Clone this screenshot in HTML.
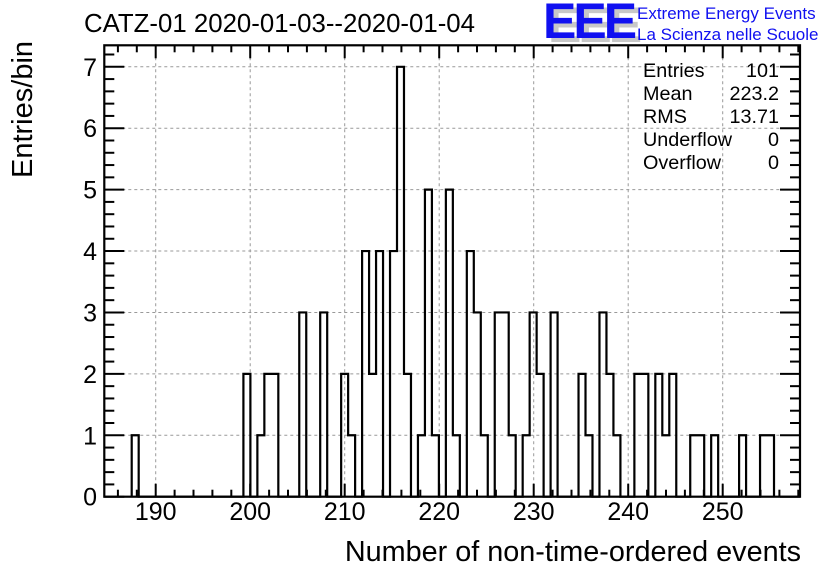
<!DOCTYPE html>
<html><head><meta charset="utf-8"><style>
html,body{margin:0;padding:0;background:#fff;}
svg{display:block;font-family:"Liberation Sans",Arial,sans-serif;}
</style></head><body>
<svg id="chart" width="836" height="572" viewBox="0 0 836 572" xmlns="http://www.w3.org/2000/svg">
<text x="84" y="32" font-size="25.8" fill="#000">CATZ-01 2020-01-03--2020-01-04</text>
<g>
<text x="548" y="42" font-size="50" font-weight="bold" fill="#c8c8c8" letter-spacing="-3">EEE</text>
<text x="543" y="38" font-size="50" font-weight="bold" fill="#1010f0" letter-spacing="-3">EEE</text>
<text x="637" y="19" font-size="17" fill="#1010f0">Extreme Energy Events</text>
<text x="637" y="40" font-size="17" fill="#1010f0">La Scienza nelle Scuole</text>
</g>
<text transform="translate(32,178) rotate(-90)" font-size="29" fill="#000">Entries/bin</text>
<text x="801" y="561" font-size="28.8" text-anchor="end" fill="#000">Number of non-time-ordered events</text>
<g id="grid"></g>
<g id="bars"></g>
<g id="axes"></g>
<g font-size="19.8" fill="#000">
<text x="643" y="77">Entries</text><text x="779" y="77" text-anchor="end">101</text>
<text x="643" y="100">Mean</text><text x="779" y="100" text-anchor="end">223.2</text>
<text x="643" y="123">RMS</text><text x="779" y="123" text-anchor="end">13.71</text>
<text x="643" y="146">Underflow</text><text x="779" y="146" text-anchor="end">0</text>
<text x="643" y="169">Overflow</text><text x="779" y="169" text-anchor="end">0</text>
</g>
</svg>
<script>
const binStart = 187.46;
const binWidth = 0.7388;
const counts = [1,0,0,0,0,0,0,0,0,0,0,0,0,0,0,0,2,0,1,2,2,0,0,0,3,0,0,3,0,0,2,1,0,4,2,4,0,4,7,2,0,1,5,1,0,5,1,0,4,3,1,0,3,3,1,0,1,3,2,0,3,0,0,0,2,1,0,3,2,1,0,0,2,2,0,2,1,2,0,0,1,1,0,1,0,0,0,1,0,0,1,1];
const xTicks = [190,200,210,220,230,240,250];
const yTicks = [0,1,2,3,4,5,6,7];

const X0=104.3, X1=800, Y0=496.7, Y1=45.3;
const xmin=184.56, xmax=258.18, ymin=0, ymax=7.35;
const sx = v => X0 + (v-xmin)/(xmax-xmin)*(X1-X0);
const sy = v => Y0 - (v-ymin)/(ymax-ymin)*(Y0-Y1);
const NS="http://www.w3.org/2000/svg";
function mk(tag, attrs, parent){const e=document.createElementNS(NS,tag);for(const k in attrs)e.setAttribute(k,attrs[k]);parent.appendChild(e);return e;}
const grid=document.getElementById('grid'), bars=document.getElementById('bars'), axes=document.getElementById('axes');

xTicks.forEach(t=>{
  const l=mk('line',{x1:sx(t),x2:sx(t),y1:Y1,y2:Y0,stroke:'#999','stroke-width':1,'stroke-dasharray':'3,3'},grid);
  
  
});
yTicks.forEach(t=>{
  const l=mk('line',{x1:X0,x2:X1,y1:sy(t),y2:sy(t),stroke:'#999','stroke-width':1,'stroke-dasharray':'3,3'},grid);
  
  
});

let d='M'+sx(binStart)+','+sy(0);
counts.forEach((c,i)=>{
  const a=binStart+i*binWidth, b=a+binWidth;
  d+=' L'+sx(a)+','+sy(c)+' L'+sx(b)+','+sy(c);
});
d+=' L'+sx(binStart+counts.length*binWidth)+','+sy(0);
const p=mk('path',{d:d,fill:'none',stroke:'#000','stroke-width':2.2},bars);



const f=mk('rect',{x:X0,y:Y1,width:X1-X0,height:Y0-Y1,fill:'none',stroke:'#000','stroke-width':2.2},axes);



for(let v=186; v<=258; v+=2){
  const major = v%10===0, len = major?13:7;
  mk('line',{x1:sx(v),x2:sx(v),y1:Y0,y2:Y0-len,stroke:'#000','stroke-width':2},axes);
  mk('line',{x1:sx(v),x2:sx(v),y1:Y1,y2:Y1+len,stroke:'#000','stroke-width':2},axes);
}
xTicks.forEach(t=>{
  const tx=mk('text',{x:sx(t),y:520,'font-size':25,'text-anchor':'middle',fill:'#000'},axes);
  tx.textContent=t;
  
  
});
for(let k=0; k<=36; k++){
  const v=k*0.2, major=(k%5===0), len=major?20:10;
  mk('line',{x1:X0,x2:X0+len,y1:sy(v),y2:sy(v),stroke:'#000','stroke-width':2},axes);
  mk('line',{x1:X1,x2:X1-len,y1:sy(v),y2:sy(v),stroke:'#000','stroke-width':2},axes);
}
yTicks.forEach(t=>{
  const tx=mk('text',{x:97,y:sy(t)+9,'font-size':25,'text-anchor':'end',fill:'#000'},axes);
  tx.textContent=t;
  
  
});
</script>
</body></html>
